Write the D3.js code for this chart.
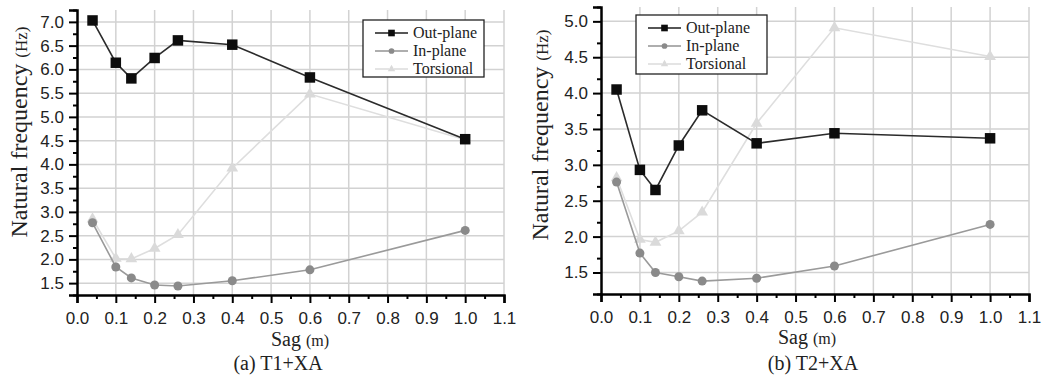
<!DOCTYPE html>
<html>
<head>
<meta charset="utf-8">
<script src="https://cdn.jsdelivr.net/npm/d3@7"></script>
<style>
  body { margin: 0; background: #fff; }
  svg { display: block; }
  .tick text { font-family: "Liberation Sans", Arial, sans-serif; }
</style>
</head>
<body>
<svg id="chart" width="1051" height="378"></svg>
<script>
// sag values (m) shared by both panels
const sag = [0.04, 0.1, 0.14, 0.2, 0.26, 0.4, 0.6, 1.0];

// (a) T1+XA
const t1Out = [7.03, 6.14, 5.81, 6.24, 6.61, 6.52, 5.83, 4.53];
const t1In  = [2.77, 1.84, 1.61, 1.46, 1.44, 1.55, 1.78, 2.61];
const t1Tor = [2.85, 2.02, 2.01, 2.23, 2.52, 3.92, 5.48, 4.52];

// (b) T2+XA
const t2Out = [4.05, 2.93, 2.65, 3.27, 3.76, 3.30, 3.44, 3.37];
const t2In  = [2.76, 1.77, 1.50, 1.44, 1.38, 1.42, 1.59, 2.17];
const t2Tor = [2.82, 1.96, 1.92, 2.08, 2.34, 3.58, 4.91, 4.51];

const xTicks = [0.0, 0.1, 0.2, 0.3, 0.4, 0.5, 0.6, 0.7, 0.8, 0.9, 1.0, 1.1];
const t1YTicks = [1.5, 2.0, 2.5, 3.0, 3.5, 4.0, 4.5, 5.0, 5.5, 6.0, 6.5, 7.0];
const t2YTicks = [1.5, 2.0, 2.5, 3.0, 3.5, 4.0, 4.5, 5.0];

const seriesNames = ['Out-plane', 'In-plane', 'Torsional'];

const svg = d3.select('#chart');

const styles = {
  'Out-plane': { line: '#2b2b2b', fill: '#0d0d0d', shape: d3.symbolSquare, size: 110 },
  'In-plane':  { line: '#9a9a9a', fill: '#8a8a8a', shape: d3.symbolCircle, size: 64 },
  'Torsional': { line: '#dedede', fill: '#dadada', shape: d3.symbolTriangle, size: 60 }
};

function drawPanel(cfg) {
  const g = svg.append('g');
  const x = d3.scaleLinear().domain([0, 1.1]).range([cfg.left, cfg.right]);
  const y = d3.scaleLinear().domain(cfg.yDomain).range([cfg.bottom, cfg.top]);

  // grid
  g.append('g').selectAll('line').data(cfg.yTicks).enter().append('line')
    .attr('x1', cfg.left).attr('x2', cfg.right)
    .attr('y1', d => y(d)).attr('y2', d => y(d))
    .attr('stroke', '#d2d2d2').attr('stroke-width', 1.5);
  g.append('g').selectAll('line').data(xTicks.slice(1)).enter().append('line')
    .attr('x1', d => x(d)).attr('x2', d => x(d))
    .attr('y1', cfg.top).attr('y2', cfg.bottom)
    .attr('stroke', '#d2d2d2').attr('stroke-width', 1.5);

  // axes with minor ticks
  const minorX = d3.range(0.05, 1.1, 0.1);
  const minorY = d3.range(cfg.yDomain[0], cfg.yDomain[1] + 0.01, 0.5);
  g.append('g')
    .attr('transform', `translate(0,${cfg.bottom})`)
    .call(d3.axisBottom(x).tickValues(minorX).tickSize(4).tickFormat(''))
    .call(a => a.select('.domain').remove())
    .selectAll('line').attr('stroke', '#000').attr('stroke-width', 2);
  g.append('g')
    .attr('transform', `translate(${cfg.left},0)`)
    .call(d3.axisLeft(y).tickValues(minorY).tickSize(4).tickFormat(''))
    .call(a => a.select('.domain').remove())
    .selectAll('line').attr('stroke', '#000').attr('stroke-width', 2);

  const xAxis = g.append('g')
    .attr('transform', `translate(0,${cfg.bottom})`)
    .call(d3.axisBottom(x).tickValues(xTicks).tickSize(8).tickPadding(9).tickFormat(d3.format('.1f')));
  xAxis.select('.domain').attr('stroke', '#000').attr('stroke-width', 2.5);
  xAxis.selectAll('line').attr('stroke', '#000').attr('stroke-width', 2);
  xAxis.selectAll('text').attr('font-size', 17).attr('fill', '#222');

  const yAxis = g.append('g')
    .attr('transform', `translate(${cfg.left},0)`)
    .call(d3.axisLeft(y).tickValues(cfg.yTicks).tickSize(8).tickPadding(5).tickFormat(d3.format('.1f')));
  yAxis.select('.domain').attr('stroke', '#000').attr('stroke-width', 2.5);
  yAxis.selectAll('line').attr('stroke', '#000').attr('stroke-width', 2);
  yAxis.selectAll('text').attr('font-size', 17).attr('fill', '#222');

  // series, light ones first
  const data = { 'Out-plane': cfg.out, 'In-plane': cfg.inp, 'Torsional': cfg.tor };
  ['Torsional', 'In-plane', 'Out-plane'].forEach(name => {
    const st = styles[name];
    const pts = sag.map((s, i) => [s, data[name][i]]);
    g.append('path')
      .datum(pts)
      .attr('fill', 'none')
      .attr('stroke', st.line)
      .attr('stroke-width', 1.6)
      .attr('d', d3.line().x(d => x(d[0])).y(d => y(d[1])));
    g.append('g').selectAll('path').data(pts).enter().append('path')
      .attr('transform', d => `translate(${x(d[0])},${y(d[1])})`)
      .attr('d', d3.symbol().type(st.shape).size(st.size))
      .attr('fill', st.fill);
  });

  // legend
  const lg = cfg.legend;
  g.append('rect')
    .attr('x', lg.x).attr('y', lg.y).attr('width', lg.w).attr('height', lg.h)
    .attr('fill', '#fff').attr('stroke', '#222').attr('stroke-width', 1.3);
  seriesNames.forEach((name, i) => {
    const st = styles[name];
    const cy = lg.y + 13 + i * 18;
    const lx = lg.x + 12;
    g.append('line').attr('x1', lx).attr('x2', lx + 14).attr('y1', cy).attr('y2', cy)
      .attr('stroke', st.line).attr('stroke-width', 1.6);
    g.append('line').attr('x1', lx + 19).attr('x2', lx + 33).attr('y1', cy).attr('y2', cy)
      .attr('stroke', st.line).attr('stroke-width', 1.6);
    g.append('path')
      .attr('transform', `translate(${lx + 16.5},${cy})`)
      .attr('d', d3.symbol().type(st.shape).size(st.size * 0.4))
      .attr('fill', st.fill);
    g.append('text')
      .attr('x', lx + 38).attr('y', cy + 5)
      .attr('font-family', '"Liberation Serif", "Times New Roman", serif')
      .attr('font-size', 16).attr('fill', '#222')
      .text(name);
  });

  // titles
  const serif = '"Liberation Serif", "Times New Roman", serif';
  const yt = g.append('text')
    .attr('transform', `translate(${cfg.yTitleX},${cfg.yTitleY}) rotate(-90)`)
    .attr('text-anchor', 'middle')
    .attr('font-family', serif).attr('font-size', 24).attr('fill', '#222');
  yt.append('tspan').text('Natural frequency ');
  yt.append('tspan').attr('font-size', 17).text('(Hz)');

  const xt = g.append('text')
    .attr('x', cfg.xTitleX).attr('y', cfg.xTitleY)
    .attr('text-anchor', 'middle')
    .attr('font-family', serif).attr('font-size', 20).attr('fill', '#222');
  xt.append('tspan').text('Sag ');
  xt.append('tspan').attr('font-size', 16).text('(m)');

  g.append('text')
    .attr('x', cfg.capX).attr('y', cfg.capY)
    .attr('text-anchor', 'middle')
    .attr('font-family', serif).attr('font-size', 20).attr('fill', '#222')
    .text(cfg.caption);
}

drawPanel({
  left: 77, right: 504, top: 10, bottom: 295,
  yDomain: [1.25, 7.25], yTicks: t1YTicks,
  out: t1Out, inp: t1In, tor: t1Tor,
  legend: { x: 363, y: 20, w: 121, h: 57 },
  yTitleX: 27, yTitleY: 132,
  xTitleX: 300, xTitleY: 346,
  capX: 278, capY: 370, caption: '(a) T1+XA'
});

drawPanel({
  left: 601, right: 1029, top: 7, bottom: 294,
  yDomain: [1.2, 5.2], yTicks: t2YTicks,
  out: t2Out, inp: t2In, tor: t2Tor,
  legend: { x: 636, y: 15, w: 131, h: 59 },
  yTitleX: 548, yTitleY: 135,
  xTitleX: 807, xTitleY: 344,
  capX: 813, capY: 370, caption: '(b) T2+XA'
});
</script>
</body>
</html>
